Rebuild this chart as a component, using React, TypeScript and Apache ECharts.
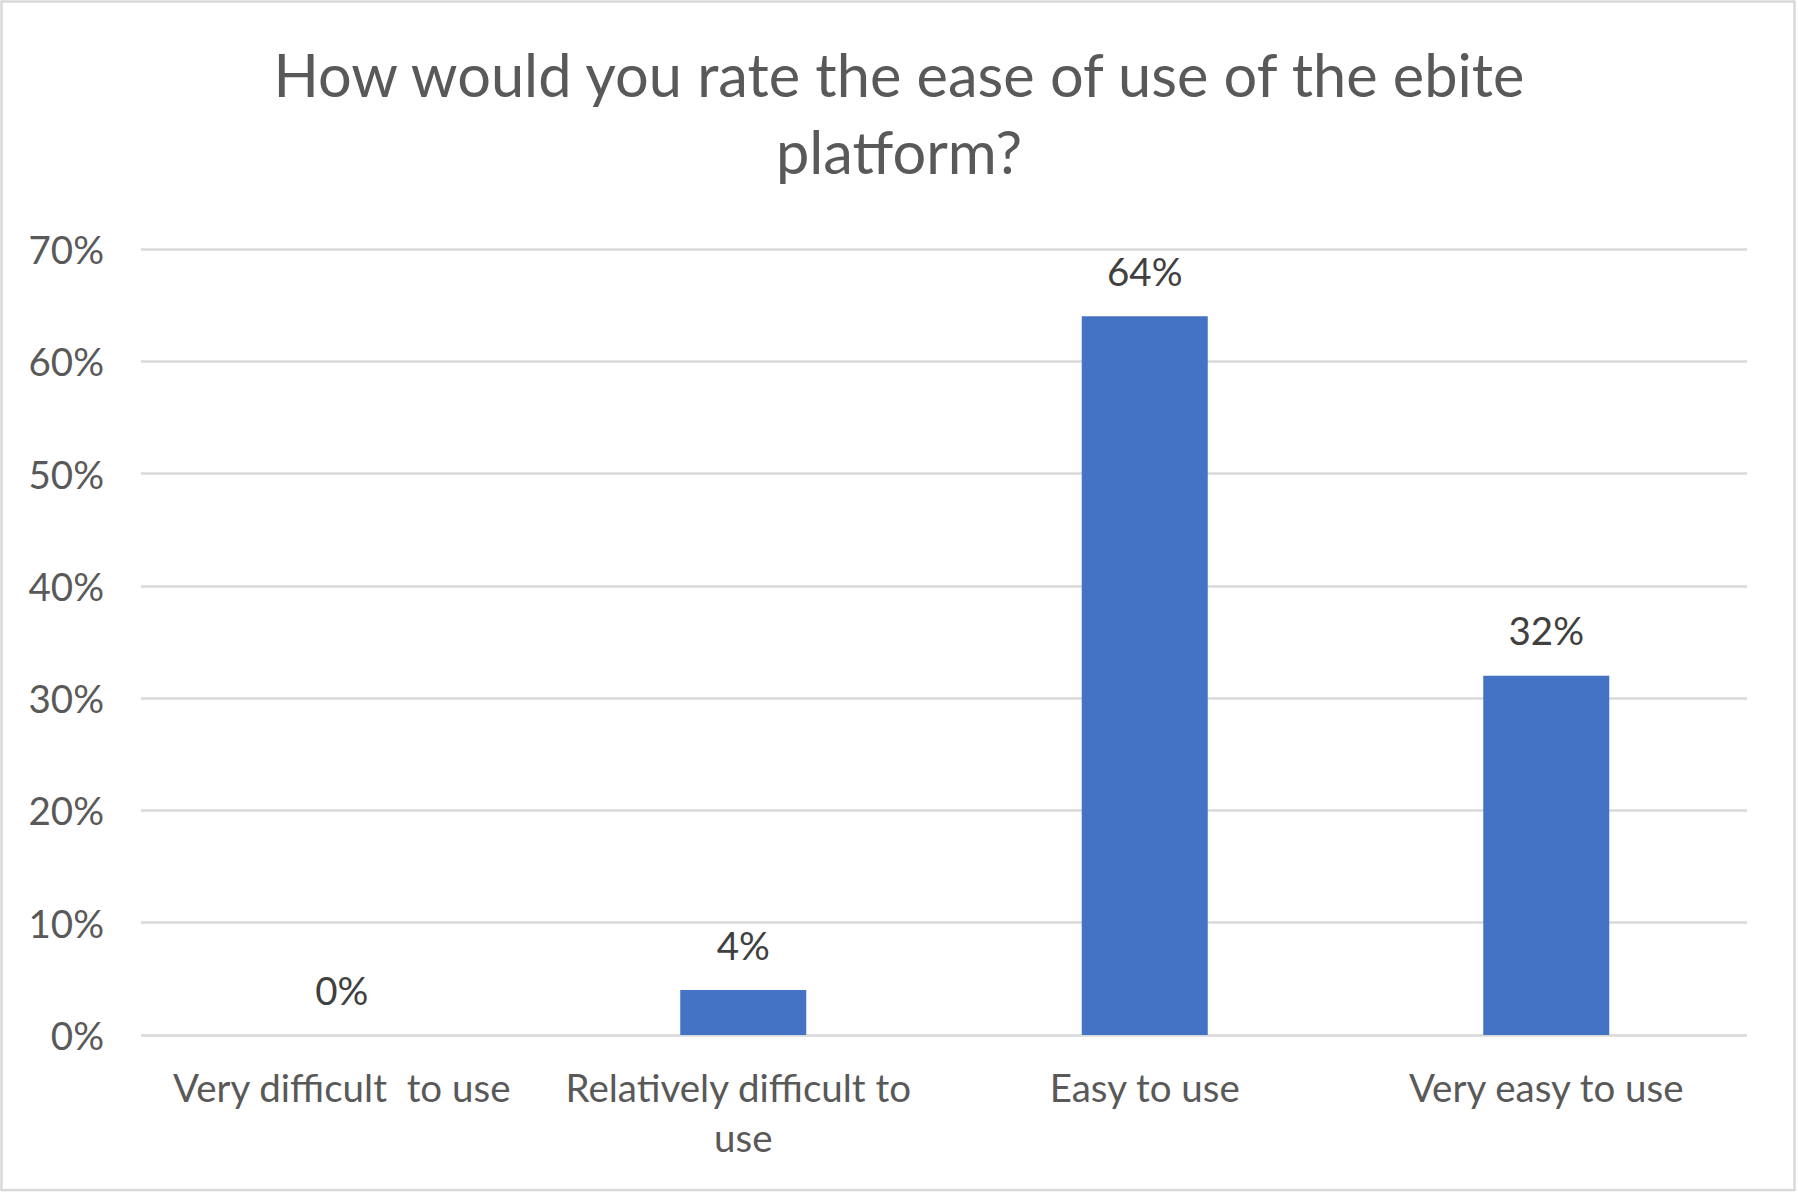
import React, { useEffect, useRef } from "react";
import * as echarts from "echarts";

const titleText = "How would you rate the ease of use of the ebite\nplatform?";
const categories = ["Very difficult  to use", "Relatively difficult to use", "Easy to use", "Very easy to use"];
const values = [0, 0.04, 0.64, 0.32];
const yMin = 0;
const yMax = 0.7;
const yInterval = 0.1;

const FONT = "Lato, 'Open Sans', sans-serif";
const pct = (v: number) => `${Math.round(v * 100)}%`;

export default function App() {
  const ref = useRef<HTMLDivElement>(null);
  useEffect(() => {
    if (!ref.current) return;
    const chart = echarts.init(ref.current, undefined, { renderer: "svg" });
    chart.setOption({
      animation: false,
      backgroundColor: "#ffffff",
      textStyle: { fontFamily: FONT },
      title: {
        text: titleText,
        left: "center",
        top: 30,
        textStyle: {
          fontFamily: FONT,
          fontSize: 59.5,
          lineHeight: 77,
          fontWeight: "normal",
          color: "#595959",
        },
      },
      grid: { left: 141, right: 51, top: 249, bottom: 157, containLabel: false },
      xAxis: {
        type: "category",
        data: categories,
        axisLine: { show: false },
        axisTick: { show: false },
        axisLabel: {
          fontFamily: FONT,
          fontSize: 38.5,
          lineHeight: 50,
          color: "#595959",
          margin: 27,
          width: 395,
          overflow: "break",
          interval: 0,
        },
      },
      yAxis: {
        type: "value",
        min: yMin,
        max: yMax,
        interval: yInterval,
        axisLine: { show: false },
        axisTick: { show: false },
        axisLabel: {
          fontFamily: FONT,
          fontSize: 38.5,
          color: "#595959",
          margin: 37,
          formatter: (v: number) => pct(v),
        },
        splitLine: { lineStyle: { color: "#D9D9D9", width: 2.5 } },
      },
      series: [
        {
          type: "bar",
          data: values,
          barWidth: 126,
          itemStyle: { color: "#4472C4" },
          label: {
            show: true,
            position: "top",
            distance: 26,
            fontFamily: FONT,
            fontSize: 38.5,
            color: "#404040",
            formatter: (p: any) => pct(p.value),
          },
        },
      ],
      graphic: [
        {
          type: "rect",
          shape: { x: 1.5, y: 1.5, width: 1793, height: 1188.5 },
          style: { fill: "none", stroke: "#D9D9D9", lineWidth: 2.5 },
          silent: true,
          z: 100,
        },
      ],
    });
    return () => chart.dispose();
  }, []);
  return (
    <div
      ref={ref}
      style={{ position: "absolute", left: 0, top: 0, width: 1798, height: 1192, background: "#fff" }}
    />
  );
}
